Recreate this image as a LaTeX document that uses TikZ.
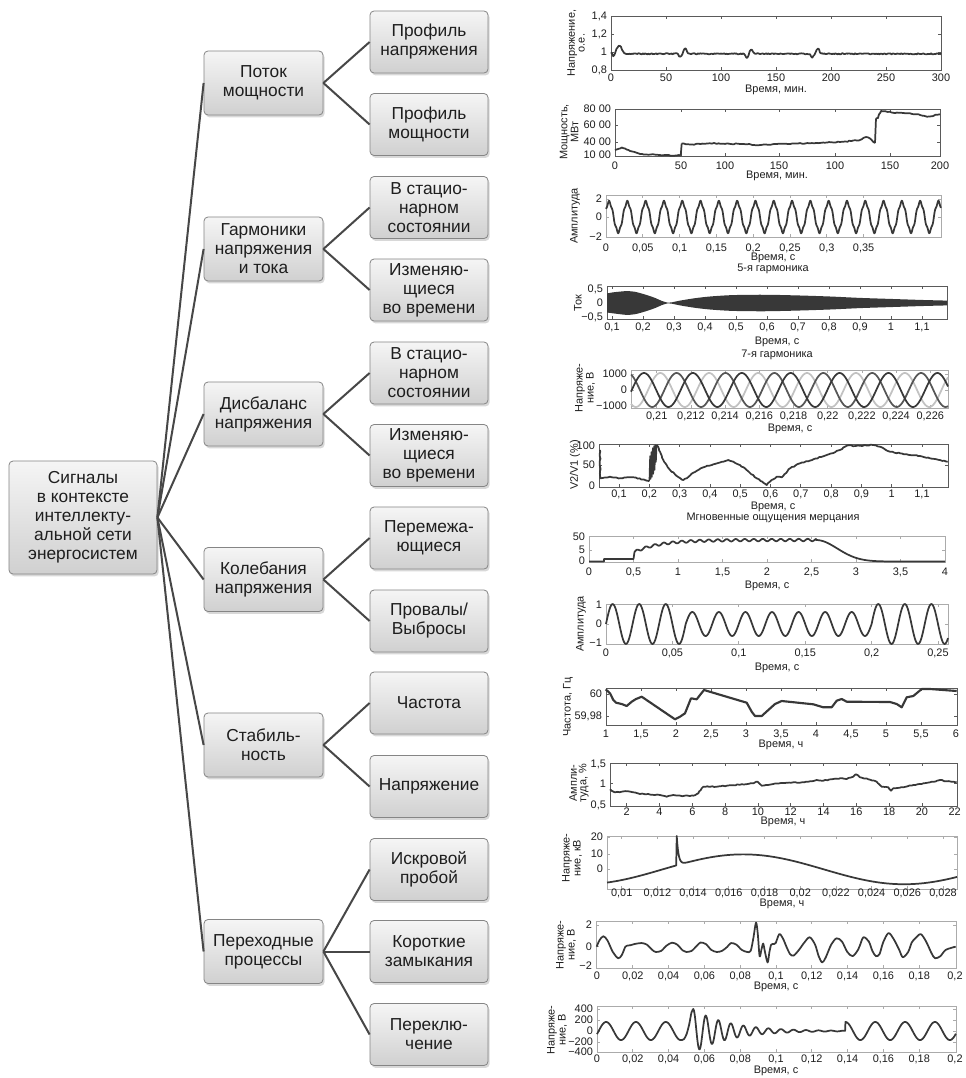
\documentclass[tikz,border=0pt]{standalone}
\usepackage{fontspec}
\setmainfont{Liberation Sans}
\usetikzlibrary{shadows,decorations.pathmorphing}
\definecolor{sigc}{HTML}{383838}
\definecolor{linec}{HTML}{474747}
\definecolor{boxtop}{HTML}{F5F5F5}
\definecolor{boxbot}{HTML}{D0D0D0}
\definecolor{boxdraw}{HTML}{858585}
\definecolor{darkf}{HTML}{5A5A5A}
\definecolor{lightf}{HTML}{ABABAB}
\definecolor{lightw}{HTML}{C2C2C2}
\definecolor{txtc}{HTML}{1E1E1E}
\colorlet{fc}{darkf}
\newcommand\xtk[3]{\foreach \p in {#3}{\draw[frm] (\p,#1) -- ++(0,3) (\p,#2) -- ++(0,-3);}}
\newcommand\ytk[3]{\foreach \p in {#3}{\draw[frm] (#1,\p) -- ++(3,0) (#2,\p) -- ++(-3,0);}}
\newcommand\xlabs[3]{\foreach \p/\l [count=\i] in {#3}{\node[tk] (#1x\i) at (\p,#2) {\l};}}
\newcommand\ylabs[3]{\foreach \p/\l [count=\i] in {#3}{\node[tk,anchor=east] (#1y\i) at (#2,\p) {\l};}}
\begin{document}
\begin{tikzpicture}[x=0.75pt,y=-0.75pt,
 declare function={bb(\t,\c,\w)=(1-pow(min(abs(\t-\c)/\w,1),2))^2;},
 box/.style={draw=boxdraw, line width=0.6pt, rounded corners=3pt, top color=boxtop, bottom color=boxbot,
   align=center, font=\fontsize{13}{14.25}\selectfont, text=txtc, inner sep=1pt,
   drop shadow={shadow xshift=1.2pt, shadow yshift=-1.8pt, opacity=0.3}},
 leafbox/.style={box, minimum width=88.5pt, minimum height=46.5pt},
 midbox/.style={box, minimum width=89.25pt, minimum height=48pt},
 conn/.style={draw=linec, line width=1.5pt},
 frm/.style={draw=fc, line width=0.6pt},
 sig/.style={draw=sigc, line width=1.3pt, line join=round},
 noisy/.style={decorate, decoration={random steps, segment length=1.6pt, amplitude=0.35pt}},
 tk/.style={font=\fontsize{8.2}{8.2}\selectfont, text=txtc, inner sep=0.6pt},
 lab/.style={font=\fontsize{8.2}{7.2}\selectfont, text=txtc, inner sep=0.6pt, align=center}
]
\fill[white] (0,0) rectangle (966,1078);
\useasboundingbox (0,0) rectangle (966,1078);

% ---------------- tree ----------------
\node[box, minimum width=111pt, minimum height=84.75pt] (root) at (83,517.5) {Сигналы\\в контексте\\интеллекту-\\альной сети\\энергосистем};

\node[midbox] (m1) at (263.5,83) {Поток\\мощности};
\node[midbox] (m2) at (263.5,249) {Гармоники\\напряжения\\и тока};
\node[midbox] (m3) at (263.5,414) {Дисбаланс\\напряжения};
\node[midbox] (m4) at (263.5,579.5) {Колебания\\напряжения};
\node[midbox] (m5) at (263.5,745) {Стабиль-\\ность};
\node[midbox] (m6) at (263.5,951.5) {Переходные\\процессы};

\node[leafbox] (l1) at (429,42) {Профиль\\напряжения};
\node[leafbox] (l2) at (429,124.5) {Профиль\\мощности};
\node[leafbox] (l3) at (429,207.5) {В стацио-\\нарном\\состоянии};
\node[leafbox] (l4) at (429,290) {Изменяю-\\щиеся\\во времени};
\node[leafbox] (l5) at (429,373) {В стацио-\\нарном\\состоянии};
\node[leafbox] (l6) at (429,455.5) {Изменяю-\\щиеся\\во времени};
\node[leafbox] (l7) at (429,538) {Перемежа-\\ющиеся};
\node[leafbox] (l8) at (429,621) {Провалы/\\Выбросы};
\node[leafbox] (l9) at (429,703) {Частота};
\node[leafbox] (l10) at (429,786.5) {Напряжение};
\node[leafbox] (l11) at (429,869.5) {Искровой\\пробой};
\node[leafbox] (l12) at (429,951.5) {Короткие\\замыкания};
\node[leafbox] (l13) at (429,1034.5) {Переклю-\\чение};

\foreach \m in {m1,m2,m3,m4,m5,m6}{\draw[conn] (root.east) -- (\m.west);}
\draw[conn] (m1.east) -- (l1.west); \draw[conn] (m1.east) -- (l2.west);
\draw[conn] (m2.east) -- (l3.west); \draw[conn] (m2.east) -- (l4.west);
\draw[conn] (m3.east) -- (l5.west); \draw[conn] (m3.east) -- (l6.west);
\draw[conn] (m4.east) -- (l7.west); \draw[conn] (m4.east) -- (l8.west);
\draw[conn] (m5.east) -- (l9.west); \draw[conn] (m5.east) -- (l10.west);
\draw[conn] (m6.east) -- (l11.west); \draw[conn] (m6.east) -- (l12.west); \draw[conn] (m6.east) -- (l13.west);

% ---------------- P1 ----------------
\colorlet{fc}{darkf}
\draw[frm] (611,16) rectangle (941,70);
\xtk{16}{70}{666,721,776,831,886}
\ytk{611}{941}{34,52}
\begin{scope}[shift={(611,52)}, xscale=1.1, yscale=-90]
\draw[sig] plot[domain=0:300, samples=301, variable=\t] (\t,{-0.02+0.006*rand+0.09*bb(\t,7.5,5)-0.025*bb(\t,2.5,2)+0.02*bb(\t,0,1.2)-0.035*bb(\t,63,2.5)+0.06*bb(\t,67.5,3)-0.05*bb(\t,123.5,2.5)+0.05*bb(\t,127.5,3)-0.04*bb(\t,183,2.5)+0.06*bb(\t,188,3)});
\end{scope}
\xlabs{pa}{78}{611/0,666/50,721/100,776/150,831/200,886/250,941/300}
\ylabs{pa}{608}{16/{1,4},34/{1,2},52/1,70/{0,8}}
\node[lab] (pat) at (776,90) {Время, мин.};
\node[lab,rotate=90] (pal) at (576,43) {Напряжение,\\о.е.};

% ---------------- P2 ----------------
\draw[frm] (615,109) rectangle (940,156);
\xtk{109}{156}{681,725,779,835,890}
\ytk{615}{940}{125,142}
\draw[sig,noisy] plot coordinates {(615,150)(618,149)(621.7,147.5)(625,148.5)(630,151)(640,154)(660,155)(680.7,155.5)};
\draw[sig] (680.7,155.5) -- (681.7,143.5);
\draw[sig,noisy] plot coordinates {(681.7,143.5)(690,144.5)(710,143.3)(743,144)(760,145)(777,144)(810,143.3)(843,141.7)(860,140)(866,137)(870,138.5)(873,141.7)(875,143)};
\draw[sig] (875,143) -- (876,118.3);
\draw[sig,noisy] plot coordinates {(876,118.3)(878,118)(881,111)(893,112.7)(910,113.3)(920,115)(927,116.7)(940,114.3)};
\xlabs{pb}{166}{615/0,681/50,725/100,779/150,835/100,890/150,940/200}
\ylabs{pb}{612}{109/80 00,125/60 00,142/40 00,155/10 00}
\node[lab] (pbt) at (777,176) {Время, мин.};
\node[lab,rotate=90] (pbl) at (569,132) {Мощность,\\МВт};

% ---------------- P3 ----------------
\colorlet{fc}{lightf}
\draw[frm] (606,195) rectangle (941,237);
\xtk{195}{237}{642.8,679.6,716.4,753.2,790,826.8,863.6}
\ytk{606}{941}{199,217}
\draw[sig] plot[domain=606:941, samples=700, variable=\x] (\x,{217-15*(sin(19.672*mod(\x-606,18.3)+30)+0.09*sin(5*(19.672*mod(\x-606,18.3))+150))});
\xlabs{pc}{248}{606/0,642.8/{0,05},679.6/{0,1},716.4/{0,15},753.2/{0,2},790/{0,25},826.8/{0,3},863.6/{0,35}}
\ylabs{pc}{603}{199/2,217/0,237/−2}
\node[lab] (pct) at (773,258) {Время, с};
\node[lab] (pcs) at (773,269) {5-я гармоника};
\node[lab,rotate=90] (pcl) at (575,216) {Амплитуда};

% ---------------- P4 ----------------
\colorlet{fc}{darkf}
\draw[frm] (607,286) rectangle (947,319);
\xtk{286}{319}{612,643,674,705,736,767,798,829,860,891,922}
\ytk{607}{947}{303}
\fill[sigc] plot[smooth] coordinates {(607,293.5)(612,292.5)(620,291.6)(627,291.1)(635,291.8)(645,294.5)(655,297.9)(662,301)(668,302.7)(672,302.3)(680,300.6)(695,298.2)(710,296.5)(730,295.2)(750,294.8)(770,294.8)(800,295.5)(830,296.5)(860,297.9)(890,298.9)(920,299.9)(947,300.6)} -- plot[smooth] coordinates {(947,305.4)(920,306.1)(890,307.1)(860,308.1)(830,309.5)(800,310.5)(770,311.2)(750,311.2)(730,310.8)(710,309.5)(695,307.8)(680,305.4)(672,303.7)(668,303.3)(662,305)(655,308.1)(645,311.5)(635,314.2)(627,314.9)(620,314.2)(612,313.2)(607,312.5)} -- cycle;
\xlabs{pd}{327}{612/{0,1},643/{0,2},674/{0,3},705/{0,4},736/{0,5},767/{0,6},798/{0,7},829/{0,8},860/{0,9},891/1,922/{1,1}}
\ylabs{pd}{604}{289/{0,5},303/0,317/{−0,5}}
\node[lab] (pdt) at (777,342) {Время, с};
\node[lab] (pds) at (777,355) {7-я гармоника};
\node[lab,rotate=90] (pdl) at (578,303) {Ток};

% ---------------- P5 ----------------
\colorlet{fc}{lightf}
\draw[frm] (631,370) rectangle (948,408);
\xtk{370}{408}{656.7,690.9,725.1,759.3,793.5,827.7,861.9,896.1,930.3}
\ytk{631}{948}{374,390,406}
\draw[sig,draw=lightw] plot[domain=631:948, samples=320, variable=\x] (\x,{390-17*sin(7.362*(\x-631)+234.3)});
\draw[sig,draw=sigc!85] plot[domain=631:948, samples=320, variable=\x] (\x,{390-17*sin(7.362*(\x-631)+114.3)});
\draw[sig] plot[domain=631:948, samples=320, variable=\x] (\x,{390-17*sin(7.362*(\x-631)-5.7)});
\xlabs{pe}{416}{656.7/{0,21},690.9/{0,212},725.1/{0,214},759.3/{0,216},793.5/{0,218},827.7/{0,22},861.9/{0,222},896.1/{0,224},930.3/{0,226}}
\ylabs{pe}{628}{374/1000,390/0,406/−1000}
\node[lab] (pet) at (790,429) {Время, с};
\node[lab,rotate=90] (pel) at (585,388) {Напряже-\\ние, В};

% ---------------- P6 ----------------
\colorlet{fc}{darkf}
\draw[frm] (599,444) rectangle (948,487);
\xtk{444}{487}{619,649.3,679.6,709.9,740.2,770.5,800.8,831.1,861.4,891.7,922}
\ytk{599}{948}{465}
\draw[sig,noisy] plot coordinates {(600,450)(600.3,478.3)(610,476.7)(620,478.3)(633.3,477.3)(645,480)(649.3,481)};
\draw[sig,line width=1pt] plot coordinates {(649.3,481)(650,456)(650.7,479)(651.3,452)(652,477)(652.7,448)(653.3,474)(654,446)(654.7,470)(655.3,445)(656,462)(656.7,445)};
\draw[sig,noisy] plot coordinates {(656.7,445)(660,451.7)(663.3,460)(670,470)(676.7,476)(683.3,480)(686.7,478.3)(693.3,472.7)(703.3,467.3)(713.3,464.3)(723.3,461.7)(728.3,460)(733.3,461.7)(740,465)(746.7,470)(756.7,478.3)(763.3,482.7)(766.7,485)(771.7,480)(776.7,476.7)(781.7,477.3)(790,468.3)(800,463.3)(813.3,459.3)(826.7,455)(840,450)(846.7,445.7)(860,445.7)(873.3,445)(880,446.7)(890,451.7)(900,453.3)(910,455)(920,456)(930,458.3)(940,460)(947.7,461.7)};
\xlabs{pf}{494}{619/{0,1},649.3/{0,2},679.6/{0,3},709.9/{0,4},740.2/{0,5},770.5/{0,6},800.8/{0,7},831.1/{0,8},861.4/{0,9},891.7/1,922/{1,1}}
\ylabs{pf}{596}{446/100,465/50,486/0}
\node[lab] (pft) at (773,507) {Время, с};
\node[lab] (pfs) at (773,518) {Мгновенные ощущения мерцания};
\node[lab,rotate=90] (pfl) at (575,465) {V2/V1 (\%)};

% ---------------- P7 ----------------
\colorlet{fc}{lightf}
\draw[frm] (589,536) rectangle (945,562);
\xtk{536}{562}{633.5,678,722.5,767,811.5,856,900.5}
\ytk{589}{945}{550}
\draw[sig] (589,561.5) -- (604,561.5) -- (604,559) -- (633.5,559) -- (634.5,552) -- plot[domain=634.5:816, samples=220, variable=\x] (\x,{540+12*exp(-(\x-634.5)/25)-1.2*sin(40*(\x-634.5))}) -- plot[domain=816:945, samples=90, variable=\x] (\x,{561.5-21.5*exp(-((\x-816)/30)^2)});
\xlabs{pg}{572}{589/0,633.5/{0,5},678/1,722.5/{1,5},767/2,811.5/{2,5},856/3,900.5/{3,5},945/4}
\ylabs{pg}{586}{537/50,550/5,561/0}
\node[lab] (pgt) at (767,586) {Время, с};

% ---------------- P8 ----------------
\colorlet{fc}{lightf}
\draw[frm] (606,604) rectangle (948,644);
\xtk{604}{644}{672.4,738.8,805.2,871.6,938}
\ytk{606}{948}{624}
\begin{scope}[shift={(606,624)}, xscale=1.328, yscale=-20]
\draw[sig] plot[domain=0:60, samples=90, variable=\u] (\u,{sin(18*\u)}) -- plot[domain=60:200, samples=210, variable=\u] (\u,{0.6*sin(18*\u)}) -- plot[domain=200:257.5, samples=90, variable=\u] (\u,{sin(18*\u)});
\end{scope}
\xlabs{ph}{653}{606/0,672.4/{0,05},738.8/{0,1},805.2/{0,15},871.6/{0,2},938/{0,25}}
\ylabs{ph}{603}{605/1,624/0,643/−1}
\node[lab] (pht) at (777,668) {Время, с};
\node[lab,rotate=90] (phl) at (581,624) {Амплитуда};

% ---------------- P9 ----------------
\colorlet{fc}{darkf}
\draw[frm] (606,688) rectangle (957,725);
\xtk{688}{725}{641,676,711,746,781,816,851,886,921}
\ytk{606}{957}{694,716}
\draw[sig,line width=1.6pt] plot coordinates {(605.7,689.3)(610,693.3)(613.3,700)(616,702.7)(621.7,704)(626.7,706)(631.7,701.7)(636,699)(641.7,696.7)(675,719.3)(680,716.7)(685,713.3)(688.3,705)(691,698.3)(696.7,699.3)(700,695)(704,690)(746.7,702.7)(751.7,711.7)(755,716)(761.7,716)(768.3,710)(775,704)(781.7,701)(813.3,704.3)(823.3,707.3)(831.7,707.3)(836.7,700.7)(841.7,699)(846.7,701.7)(890,702)(896.7,704)(901.7,707.3)(906.7,697.3)(913.3,696)(921.7,689)(930,689)(956.7,691)};
\xlabs{pi}{734}{606/1,641/{1,5},676/2,711/{2,5},746/3,781/{3,5},816/4,851/{4,5},886/5,921/{5,5},956/6}
\ylabs{pi}{603}{694/60,716/{59,98}}
\node[lab] (pit) at (781,745) {Время, ч};
\node[lab,rotate=90] (pil) at (568,707) {Частота, Гц};

% ---------------- P10 ----------------
\draw[frm] (610,763) rectangle (957,806);
\xtk{763}{806}{626.7,659.5,692.3,725.1,757.9,790.7,823.5,856.3,889.1,921.9}
\ytk{610}{957}{783.3}
\draw[sig,noisy] plot coordinates {(610,789.3)(615,792.3)(621.7,791.7)(628.3,791.3)(633.3,792.3)(640,794)(648.3,794)(655,795)(660,795)(666.7,796.7)(673.3,795)(683.3,796)(693.3,795.7)(698.3,793.3)(701.7,788.3)(703.3,786.7)(716.7,786.7)(726.7,785.7)(740,784.7)(751.7,783.3)(757.7,781.7)(761.7,785.7)(773.3,784)(786.7,782.7)(793.3,782.3)(800,782.7)(808.3,781.7)(816.7,780)(823.3,780.7)(831.7,779.3)(840,778.3)(846.7,779)(853.3,776.7)(856,774.3)(860,777.3)(868.3,779.3)(876.7,781.7)(881.7,786.7)(888.3,787.3)(891,790.7)(893.3,788.3)(903.3,787.3)(913.3,785)(923.3,783.3)(933.3,781.7)(940,780)(946.7,781.3)(956.7,782.3)};
\xlabs{pj}{811.5}{626.7/2,659.5/4,692.3/6,725.1/8,757.9/10,790.7/12,823.5/14,856.3/16,889.1/18,921.9/20,954.7/22}
\ylabs{pj}{607}{764/{1,5},783.3/1,805/{0,5}}
\node[lab] (pjt) at (783,821.5) {Время, ч};
\node[lab,rotate=90] (pjl) at (579,783) {Ампли-\\туда, \%};

% ---------------- P11 ----------------
\colorlet{fc}{lightf}
\draw[frm] (607,836) rectangle (957,889);
\xtk{836}{889}{621.7,657.4,693.1,728.8,764.5,800.2,835.9,871.6,907.3,943}
\ytk{607}{957}{837,854,869}
\begin{scope}[shift={(621.7,869.3)}, xscale=17.87, yscale=-1.66]
\draw[sig] plot[domain=-0.82:3.05, samples=60, variable=\w] (\w,{9*cos(20*(\w-6.8))}) -- (3.08,20) -- plot[domain=3.08:4.5, samples=50, variable=\w] (\w,{9*cos(20*(\w-6.8))+17.7*exp(-(\w-3.08)/0.1)}) -- plot[domain=4.5:18.76, samples=140, variable=\w] (\w,{9*cos(20*(\w-6.8))});
\end{scope}
\xlabs{pk}{893}{621.7/{0,01},657.4/{0,012},693.1/{0,014},728.8/{0,016},764.5/{0,018},800.2/{0,02},835.9/{0,022},871.6/{0,024},907.3/{0,026},943/{0,028}}
\ylabs{pk}{604}{837/20,854/10,869/0}
\node[lab] (pkt) at (782,904) {Время, ч};
\node[lab,rotate=90] (pkl) at (572,858) {Напряже-\\ние, кВ};

% ---------------- P12 ----------------
\draw[frm] (596,921) rectangle (956,968);
\xtk{921}{968}{632.8,668.6,704.4,740.2,776,811.8,847.6,883.4,919.2}
\ytk{596}{956}{925,946.7}
\begin{scope}[shift={(596.7,946.7)}, xscale=1.79, yscale=-10.5]
\draw[sig] plot[smooth, tension=0.5] coordinates {(0,0)(1.5,0.6)(3.7,1.0)(6,0.6)(9,-0.5)(12,-1.1)(14,-0.8)(16,0.0)(17,0.1)(19,0.15)(21,0.25)(25,0.35)(28,0.2)(31,-0.3)(33,-0.5)(36,-0.4)(39,0.1)(42,0.38)(45,0.2)(48,-0.35)(50,-0.5)(53,-0.4)(56,0.1)(58,0.4)(61,0.25)(64,-0.3)(67,-0.5)(70,-0.4)(73,0.0)(75,0.35)(78,0.2)(81,-0.3)(84,-0.5)(86,-0.4)(87.5,0.8)(89,2.3)(90,1.2)(91,-0.9)(92,-0.3)(93,0.3)(94,-0.5)(95.5,-1.5)(96.5,-0.5)(97.5,0.2)(99,0.25)(100,0.35)(102,1.2)(104,0.8)(106,0)(108,-0.7)(110,-0.85)(113,-0.3)(116,0.4)(119,0.9)(122,0.2)(124,-0.9)(126,-1.5)(128,-1.0)(131,0.2)(134,0.8)(137,0.5)(140,-0.5)(143,-0.9)(146,-0.3)(147,0.1)(149,0.9)(152,0.5)(154,-0.4)(156,-0.9)(158,-0.7)(160,0.4)(163,1.3)(166,0.7)(169,-0.3)(171,-1.0)(174,-0.5)(176,0.4)(178,0.8)(181,1.2)(184,0.5)(187,-0.6)(189,-1.1)(192,-0.9)(195,-0.3)(200.5,0.0)};
\end{scope}
\xlabs{pl}{976}{597/0,632.8/{0,02},668.6/{0,04},704.4/{0,06},740.2/{0,08},776/{0,1},811.8/{0,12},847.6/{0,14},883.4/{0,16},919.2/{0,18},955/{0,2}}
\ylabs{pl}{593}{925/2,946.7/0,966/−2}
\node[lab] (plt) at (776,987) {Время, с};
\node[lab,rotate=90] (pll) at (566,945) {Напряже-\\ние, В};

% ---------------- P13 ----------------
\draw[frm] (597,1006) rectangle (956,1052);
\xtk{1006}{1052}{632.8,668.6,704.4,740.2,776,811.8,847.6,883.4,919.2}
\ytk{597}{956}{1009,1020,1031,1042}
\begin{scope}[shift={(597,1031)}, xscale=1.79, yscale=-0.055]
\draw[sig] plot[domain=0:47, samples=80, variable=\u] (\u,{165*sin(21.6*\u-20)}) -- plot[smooth] coordinates {(47,-164)(48.5,-150)(50,-60)(51.5,120)(52.8,340)(53.8,400)} -- plot[domain=53.8:138.6, samples=260, variable=\u] (\u,{400*exp(-(\u-53.8)/20)*cos(51.4286*(\u-53.8))}) -- (138.8,160) -- plot[domain=138.8:200.5, samples=100, variable=\u] (\u,{165*cos(21.6*(\u-138.8))});
\end{scope}
\xlabs{pm}{1059}{597/0,632.8/{0,02},668.6/{0,04},704.4/{0,06},740.2/{0,08},776/{0,1},811.8/{0,12},847.6/{0,14},883.4/{0,16},919.2/{0,18},955/{0,2}}
\ylabs{pm}{594}{1009/400,1020/200,1031/0,1042/−200,1052/−400}
\node[lab] (pmt) at (776,1071) {Время, с};
\node[lab,rotate=90] (pml) at (557,1030) {Напряже-\\ние, В};
\end{tikzpicture}
\end{document}
